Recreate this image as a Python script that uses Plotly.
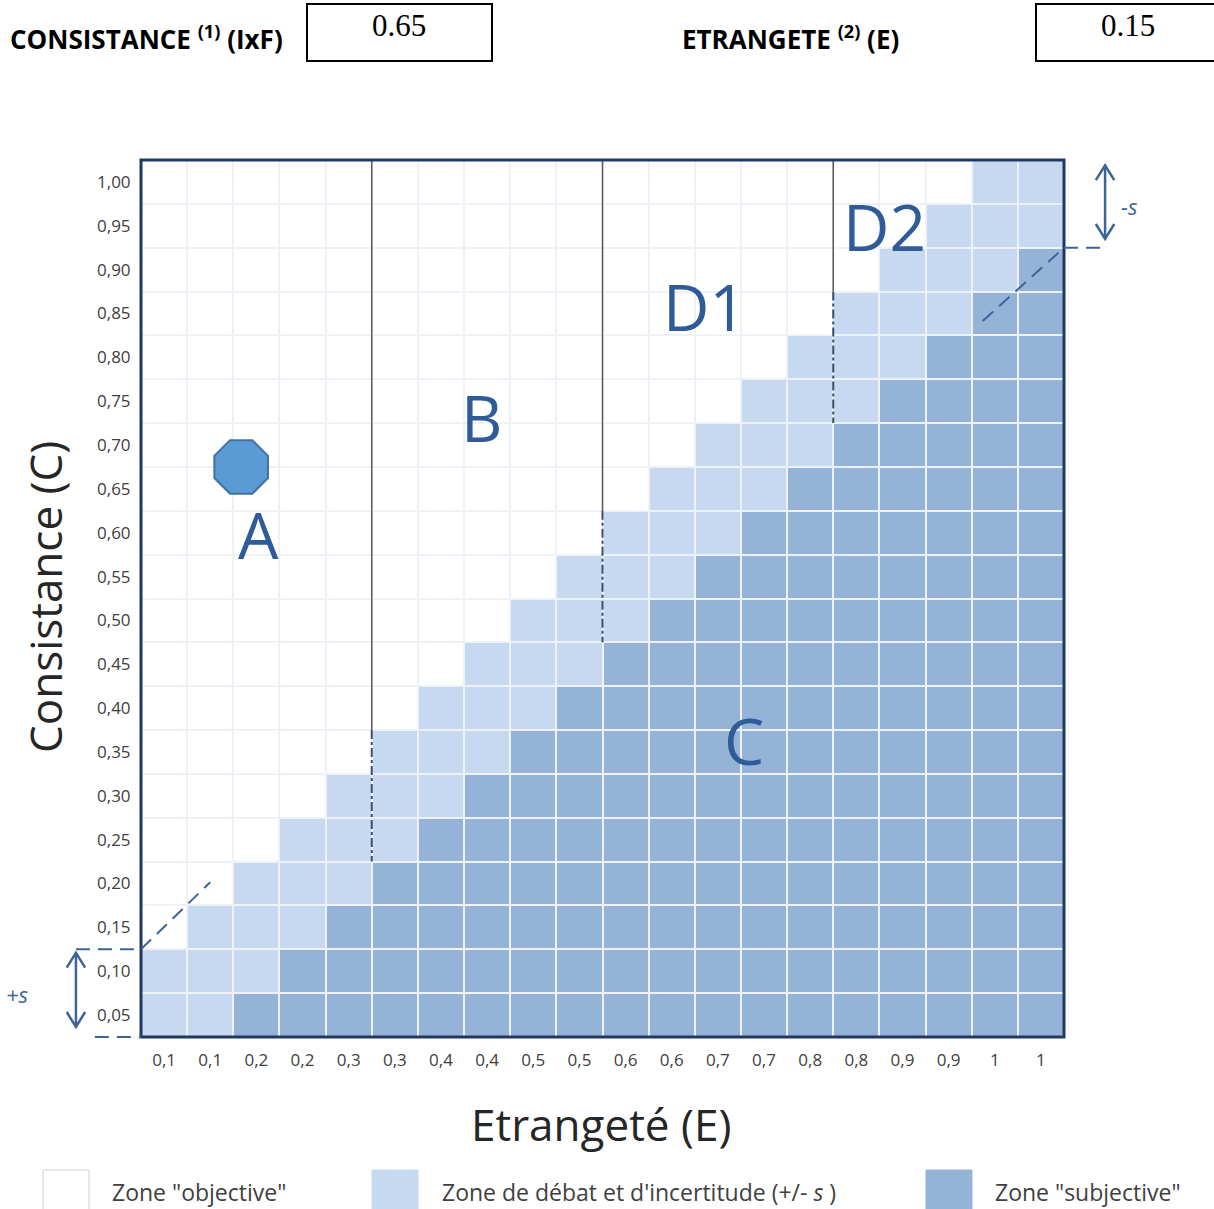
import plotly.graph_objects as go

# ---------------- data ----------------
E_labels = ["0,1", "0,1", "0,2", "0,2", "0,3", "0,3", "0,4", "0,4", "0,5", "0,5",
            "0,6", "0,6", "0,7", "0,7", "0,8", "0,8", "0,9", "0,9", "1", "1"]
C_labels = ["0,05", "0,10", "0,15", "0,20", "0,25", "0,30", "0,35", "0,40", "0,45", "0,50",
            "0,55", "0,60", "0,65", "0,70", "0,75", "0,80", "0,85", "0,90", "0,95", "1,00"]
# number of cells (from bottom) in each column in "subjective" zone / up to top of debate zone
subjective_rows = [0, 0, 1, 2, 3, 4, 5, 6, 7, 8, 9, 10, 11, 12, 13, 14, 15, 16, 17, 18]
debate_rows = [2, 3, 4, 5, 6, 7, 8, 9, 10, 11, 12, 13, 14, 15, 16, 17, 18, 19, 20, 20]
boundary_cols = [5, 10, 15]

consistance_value = "0.65"
etrangete_value = "0.15"
point_x = [2.17]    # cell units
point_y = [13.0]

zone_names = ["A", "B", "D1", "D2", "C"]
zone_x = [2.54, 7.37, 12.2, 16.1, 13.07]
zone_y = [11.45, 14.12, 16.65, 18.49, 6.77]

legend_labels = ['Zone "objective"', "Zone de débat et d'incertitude (+/- <i>s</i> )", 'Zone "subjective"']

# ---------------- styling ----------------
WHITE = "#ffffff"
LIGHT = "#c6d9f1"
DARK = "#95b3d7"
NAVY = "#1f3864"
ZBLUE = "#2f5c99"
ABLUE = "#3d6496"
TXT = "#404040"
FONT = "Open Sans"

SW, SH = 1214, 1209            # screen size
PL, PT, PW, PH = 141, 160, 923, 877   # plot area in screen pixels
NC, NR = len(E_labels), len(C_labels)


def px(x):
    return (x - PL) / PW


def py(y):
    return (PT + PH - y) / PH


def cx(c):
    return c / NC


def cy(c):
    return c / NR


z = []
for j in range(NR):
    row = []
    for i in range(NC):
        if j < subjective_rows[i]:
            row.append(2)
        elif j < debate_rows[i]:
            row.append(1)
        else:
            row.append(0)
    z.append(row)

xc = [i + 0.5 for i in range(NC)]
yc = [j + 0.5 for j in range(NR)]

fig = go.Figure()
fig.add_trace(go.Heatmap(
    x=xc, y=yc, z=z, zmin=0, zmax=2,
    colorscale=[[0, WHITE], [0.5, LIGHT], [1, DARK]],
    showscale=False, xgap=2, ygap=2, hoverinfo="skip"))

fig.add_trace(go.Scatter(
    x=point_x, y=point_y, mode="markers",
    marker=dict(symbol="octagon", size=58, color="#5b9bd5",
                line=dict(color="#41719c", width=2)),
    showlegend=False, hoverinfo="skip"))

shapes = []
annotations = []


def note(x, y, text, size, color, family=FONT, xanchor="center", yanchor="middle", **kw):
    annotations.append(dict(x=x, y=y, xref="paper", yref="paper", text=text, showarrow=False,
                            xanchor=xanchor, yanchor=yanchor,
                            font=dict(family=family, size=size, color=color), **kw))


# vertical boundary lines
for b in boundary_cols:
    top_light = debate_rows[b]
    bot_light = subjective_rows[b]
    shapes.append(dict(type="line", xref="x", yref="y", x0=b, x1=b, y0=NR, y1=top_light,
                       line=dict(color="#595959", width=1.5)))
    shapes.append(dict(type="line", xref="x", yref="y", x0=b, x1=b, y0=top_light, y1=bot_light,
                       line=dict(color="#3b4e6b", width=2, dash="dashdot")))

# plot border
shapes.append(dict(type="rect", xref="paper", yref="paper", x0=0, x1=1, y0=0, y1=1,
                   line=dict(color=NAVY, width=3)))

# zone letters
for n, x, y in zip(zone_names, zone_x, zone_y):
    annotations.append(dict(x=x, y=y, xref="x", yref="y", text=n, showarrow=False,
                            xanchor="center", yanchor="middle",
                            font=dict(family=FONT, size=64, color=ZBLUE)))

# +s / -s decorations
dash_line = dict(color=ABLUE, width=2, dash="14px,8px")


def seg(x0, y0, x1, y1, line):
    shapes.append(dict(type="line", xref="paper", yref="paper",
                       x0=cx(x0), y0=cy(y0), x1=cx(x1), y1=cy(y1), line=line))


def double_arrow(x, ytop, ybot):
    ln = dict(color=ABLUE, width=2.5)
    seg(x, ytop, x, ybot, ln)
    hw, hh = 0.2, 0.34
    shapes.append(dict(type="path", xref="paper", yref="paper",
                       path=f"M{cx(x-hw)},{cy(ytop-hh)} L{cx(x)},{cy(ytop)} L{cx(x+hw)},{cy(ytop-hh)}",
                       line=ln))
    shapes.append(dict(type="path", xref="paper", yref="paper",
                       path=f"M{cx(x-hw)},{cy(ybot+hh)} L{cx(x)},{cy(ybot)} L{cx(x+hw)},{cy(ybot+hh)}",
                       line=ln))


# left (+s)
seg(-1.41, 2.0, 0, 2.0, dash_line)
seg(-1.0, 0.0, 0, 0.0, dash_line)
seg(0, 2.0, 1.5, 3.53, dash_line)
double_arrow(-1.41, 1.92, 0.23)
note(cx(-2.67), cy(0.98), "<i>+s</i>", 22, ABLUE)
# right (-s)
seg(20, 18.0, 20.95, 18.0, dash_line)
seg(18.24, 16.33, 20, 18.0, dash_line)
double_arrow(20.89, 19.88, 18.2)
note(cx(21.43), cy(18.95), "<i>-s</i>", 22, ABLUE)

# axis titles
note(px(45), py(597), "Consistance (C)", 44, "#262626", textangle=-90)
note(px(601), py(1124), "Etrangeté (E)", 44, "#262626")

# header
note(px(8), py(38), "<b>CONSISTANCE <sup>(1)</sup> (IxF)</b>", 26, "#000000", xanchor="left")
note(px(680), py(38), "<b>ETRANGETE <sup>(2)</sup> (E)</b>", 26, "#000000", xanchor="left")
for (x0, x1, tx), val in zip([(307, 492, 399), (1036, 1222, 1128)], [consistance_value, etrangete_value]):
    shapes.append(dict(type="rect", xref="paper", yref="paper", x0=px(x0), x1=px(x1),
                       y0=py(61), y1=py(4), line=dict(color="#000000", width=2)))
    note(px(tx), py(25), val, 31, "#000000", family="Liberation Serif")

# legend
leg_boxes = [(43, 89, WHITE, "#d0d0d0"), (372, 418, LIGHT, LIGHT), (926, 972, DARK, DARK)]
leg_text_x = [110, 440, 993]
for (x0, x1, fc, lc), tx, lab in zip(leg_boxes, leg_text_x, legend_labels):
    shapes.append(dict(type="rect", xref="paper", yref="paper", x0=px(x0), x1=px(x1),
                       y0=py(1215), y1=py(1170), fillcolor=fc, line=dict(color=lc, width=1)))
    note(px(tx), py(1192), lab, 23, TXT, xanchor="left")

fig.update_layout(
    width=SW, height=SH,
    margin=dict(l=PL, r=SW - PL - PW, t=PT, b=SH - PT - PH, pad=0, autoexpand=False),
    paper_bgcolor="white", plot_bgcolor="#eef1f6",
    shapes=shapes, annotations=annotations, showlegend=False,
    xaxis=dict(range=[0, NC], tickvals=xc, ticktext=E_labels, showgrid=False, zeroline=False,
               ticks="outside", ticklen=8, tickcolor="rgba(0,0,0,0)",
               tickfont=dict(family=FONT, size=17, color=TXT), fixedrange=True),
    yaxis=dict(range=[0, NR], tickvals=yc, ticktext=C_labels, showgrid=False, zeroline=False,
               ticks="outside", ticklen=6, tickcolor="rgba(0,0,0,0)",
               tickfont=dict(family=FONT, size=17, color=TXT), fixedrange=True),
)

fig.write_html("out.html", config={"displayModeBar": False},
               post_script="document.body.style.margin='0';document.body.style.overflow='hidden';")
